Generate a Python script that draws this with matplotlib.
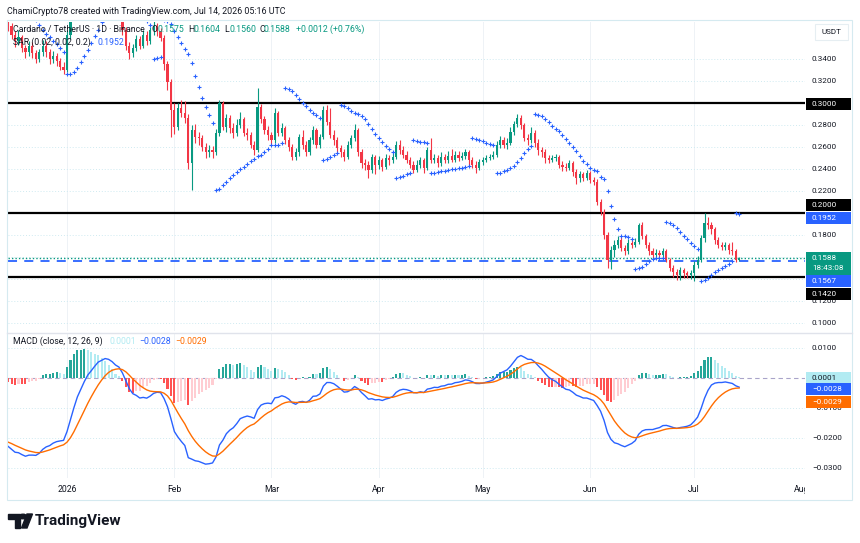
import numpy as np
import pandas as pd
import matplotlib
matplotlib.use("Agg")
import matplotlib.pyplot as plt
import matplotlib.dates as mdates
from matplotlib.patches import Rectangle, Polygon, Circle
from matplotlib.transforms import offset_copy, Bbox

plt.rcParams['font.family'] = ['Roboto', 'DejaVu Sans']

# ---- daily ADA/USDT candles, 15 Dec 2025 .. 14 Jul 2026 ----
first_day = "2025-12-15"
first_open = 0.376
closes = [
    0.370, 0.362, 0.356, 0.360, 0.350, 0.346, 0.352, 0.345, 0.340, 0.346, 0.352, 0.346, 0.340, 0.343, 0.338, 0.333, 0.330,
    0.362, 0.380, 0.390, 0.394, 0.390, 0.396, 0.398, 0.395, 0.400, 0.403, 0.398, 0.400, 0.392, 0.386, 0.380, 0.383,
    0.366, 0.352, 0.345, 0.350, 0.358, 0.352, 0.362, 0.356, 0.366, 0.370, 0.365, 0.359,
    0.335, 0.319, 0.294, 0.278, 0.295, 0.291, 0.286, 0.245, 0.275, 0.269, 0.268, 0.260, 0.255, 0.257, 0.255, 0.273,
    0.300, 0.278, 0.286, 0.277, 0.273, 0.280, 0.285, 0.273, 0.271, 0.262, 0.257, 0.296, 0.285, 0.275, 0.271, 0.266,
    0.291, 0.273, 0.277, 0.266, 0.260, 0.251, 0.255,
    0.269, 0.262, 0.255, 0.266, 0.275, 0.262, 0.269, 0.294, 0.283, 0.271, 0.266, 0.259, 0.255, 0.251, 0.262, 0.268,
    0.275, 0.255, 0.245, 0.244, 0.239, 0.251, 0.244, 0.248, 0.242, 0.250, 0.248, 0.251, 0.262, 0.257, 0.253, 0.248,
    0.244, 0.239, 0.244, 0.248, 0.241, 0.257, 0.248, 0.250, 0.245, 0.251, 0.248,
    0.252, 0.248, 0.253, 0.250, 0.252, 0.255, 0.248, 0.244, 0.241, 0.246, 0.248, 0.250, 0.251, 0.253, 0.262, 0.266,
    0.262, 0.264, 0.274, 0.281, 0.286, 0.280, 0.268, 0.266, 0.273, 0.264, 0.257, 0.255, 0.250, 0.248, 0.250, 0.251,
    0.244, 0.242, 0.241, 0.245, 0.237, 0.232, 0.235, 0.232, 0.236, 0.230, 0.228,
    0.210, 0.201, 0.180, 0.157, 0.166, 0.171, 0.175, 0.168, 0.165, 0.173, 0.171, 0.174, 0.189, 0.179, 0.171, 0.165,
    0.162, 0.164, 0.162, 0.165, 0.157, 0.150, 0.146, 0.144, 0.148, 0.145, 0.144, 0.145, 0.153, 0.157, 0.177, 0.191,
    0.189, 0.185, 0.175, 0.171, 0.169, 0.171, 0.166, 0.165, 0.1575, 0.1588,
]
highs = [
    0.380, 0.373, 0.365, 0.366, 0.362, 0.353, 0.356, 0.355, 0.348, 0.349, 0.357, 0.356, 0.349, 0.347, 0.345, 0.341, 0.337,
    0.366, 0.385, 0.394, 0.399, 0.397, 0.400, 0.403, 0.401, 0.404, 0.408, 0.405, 0.404, 0.402, 0.394, 0.388, 0.388,
    0.385, 0.369, 0.355, 0.354, 0.362, 0.361, 0.366, 0.365, 0.369, 0.375, 0.373, 0.368,
    0.362, 0.338, 0.322, 0.300, 0.300, 0.303, 0.302, 0.290, 0.280, 0.281, 0.274, 0.271, 0.264, 0.262, 0.261, 0.276,
    0.303, 0.302, 0.290, 0.289, 0.282, 0.285, 0.292, 0.287, 0.277, 0.274, 0.265, 0.314, 0.299, 0.288, 0.279, 0.274,
    0.295, 0.293, 0.282, 0.279, 0.269, 0.263, 0.259,
    0.272, 0.275, 0.265, 0.269, 0.279, 0.277, 0.272, 0.297, 0.298, 0.295, 0.275, 0.269, 0.262, 0.258, 0.265, 0.271,
    0.281, 0.277, 0.258, 0.249, 0.247, 0.254, 0.253, 0.252, 0.250, 0.254, 0.253, 0.255, 0.265, 0.266, 0.261, 0.256,
    0.251, 0.247, 0.248, 0.251, 0.250, 0.260, 0.268, 0.254, 0.253, 0.255, 0.254,
    0.256, 0.258, 0.256, 0.256, 0.255, 0.258, 0.257, 0.251, 0.247, 0.249, 0.251, 0.253, 0.254, 0.256, 0.265, 0.270,
    0.269, 0.268, 0.278, 0.284, 0.290, 0.289, 0.282, 0.272, 0.278, 0.275, 0.267, 0.260, 0.258, 0.253, 0.253, 0.254,
    0.253, 0.247, 0.245, 0.248, 0.247, 0.240, 0.238, 0.237, 0.239, 0.238, 0.233,
    0.231, 0.213, 0.204, 0.183, 0.170, 0.175, 0.179, 0.178, 0.171, 0.176, 0.175, 0.177, 0.191, 0.192, 0.181, 0.174,
    0.168, 0.167, 0.166, 0.168, 0.167, 0.159, 0.153, 0.149, 0.151, 0.150, 0.147, 0.148, 0.156, 0.161, 0.180, 0.200,
    0.196, 0.192, 0.187, 0.178, 0.174, 0.174, 0.173, 0.174, 0.167, 0.1604,
]
lows = [
    0.365, 0.358, 0.351, 0.353, 0.346, 0.341, 0.343, 0.341, 0.336, 0.337, 0.343, 0.342, 0.335, 0.336, 0.334, 0.330, 0.326,
    0.328, 0.358, 0.378, 0.385, 0.386, 0.388, 0.392, 0.390, 0.392, 0.398, 0.394, 0.395, 0.389, 0.383, 0.377, 0.377,
    0.362, 0.348, 0.340, 0.342, 0.347, 0.349, 0.350, 0.353, 0.354, 0.362, 0.361, 0.356,
    0.330, 0.312, 0.269, 0.272, 0.275, 0.287, 0.282, 0.240, 0.221, 0.264, 0.262, 0.256, 0.250, 0.251, 0.250, 0.253,
    0.270, 0.275, 0.274, 0.273, 0.268, 0.270, 0.277, 0.270, 0.266, 0.259, 0.253, 0.255, 0.282, 0.272, 0.266, 0.262,
    0.264, 0.270, 0.270, 0.263, 0.256, 0.248, 0.248,
    0.252, 0.258, 0.252, 0.253, 0.263, 0.259, 0.259, 0.267, 0.280, 0.268, 0.262, 0.255, 0.251, 0.247, 0.249, 0.259,
    0.265, 0.252, 0.241, 0.239, 0.232, 0.236, 0.235, 0.240, 0.238, 0.240, 0.244, 0.245, 0.249, 0.254, 0.250, 0.245,
    0.241, 0.236, 0.237, 0.241, 0.236, 0.239, 0.245, 0.245, 0.242, 0.243, 0.245,
    0.245, 0.246, 0.246, 0.247, 0.248, 0.249, 0.243, 0.241, 0.236, 0.239, 0.244, 0.246, 0.248, 0.249, 0.251, 0.259,
    0.259, 0.258, 0.262, 0.271, 0.278, 0.276, 0.265, 0.262, 0.264, 0.260, 0.253, 0.251, 0.245, 0.245, 0.246, 0.247,
    0.241, 0.238, 0.238, 0.239, 0.234, 0.226, 0.228, 0.229, 0.230, 0.227, 0.225,
    0.207, 0.198, 0.176, 0.150, 0.149, 0.160, 0.168, 0.165, 0.162, 0.163, 0.168, 0.169, 0.172, 0.176, 0.168, 0.162,
    0.159, 0.160, 0.159, 0.160, 0.155, 0.147, 0.142, 0.139, 0.139, 0.141, 0.141, 0.140, 0.138, 0.150, 0.155, 0.174,
    0.185, 0.181, 0.172, 0.168, 0.166, 0.166, 0.163, 0.162, 0.155, 0.156,
]

# indicator settings and the state they start from at the left edge
sar_start, sar_step, sar_max = 0.02, 0.02, 0.2
sar_seed = 0.400
ema_fast_seed, ema_slow_seed, signal_seed = 0.400, 0.422, -0.0210

# drawn levels and readouts shown on the chart
levels = [0.300, 0.200, 0.142]
last_price = 0.1588
blue_level = 0.1567
sar_value = 0.1952
hist_value, macd_value, signal_value = 0.0001, -0.0028, -0.0029
countdown = "18:43:08"

price_ticks = [0.10, 0.12, 0.18, 0.22, 0.24, 0.26, 0.28, 0.32, 0.34]
macd_ticks = [0.01, -0.01, -0.02, -0.03]
grid_price = [0.10, 0.12, 0.14, 0.16, 0.18, 0.20, 0.22, 0.24, 0.26, 0.28, 0.30, 0.32, 0.34]
month_starts = ["2026-01-01", "2026-02-01", "2026-03-01", "2026-04-01",
                "2026-05-01", "2026-06-01", "2026-07-01", "2026-08-01"]
month_labels = ["2026", "Feb", "Mar", "Apr", "May", "Jun", "Jul", "Aug"]

UP, DOWN = "#089981", "#F23645"
BLUE, ORANGE = "#2962FF", "#FF6D00"
INK = "#131722"

# ---- derived series ----
closes = np.array(closes)
highs = np.array(highs)
lows = np.array(lows)
opens = np.concatenate([[first_open], closes[:-1]])
dates = pd.date_range(first_day, periods=len(closes), freq="D")
x = mdates.date2num(dates)


def parabolic_sar(hi, lo):
    up = False
    sar, ep, af = sar_seed, lo[0], sar_start
    out = [sar]
    for i in range(1, len(hi)):
        sar = sar + af * (ep - sar)
        prev = slice(max(i - 2, 0), i)
        if up:
            sar = min(sar, lo[prev].min())
            if lo[i] < sar:
                up, sar, ep, af = False, ep, lo[i], sar_start
            elif hi[i] > ep:
                ep, af = hi[i], min(af + sar_step, sar_max)
        else:
            sar = max(sar, hi[prev].max())
            if hi[i] > sar:
                up, sar, ep, af = True, ep, hi[i], sar_start
            elif lo[i] < ep:
                ep, af = lo[i], min(af + sar_step, sar_max)
        out.append(sar)
    return np.array(out)


sar = parabolic_sar(highs, lows)

ef, es, sg = ema_fast_seed, ema_slow_seed, signal_seed
macd, signal = [], []
for c in closes:
    ef += 2 / 13 * (c - ef)
    es += 2 / 27 * (c - es)
    sg += 2 / 10 * ((ef - es) - sg)
    macd.append(ef - es)
    signal.append(sg)
macd = np.array(macd)
signal = np.array(signal)
hist = macd - signal
hist_colors = []
for i, h in enumerate(hist):
    rising = i > 0 and h > hist[i - 1]
    if h >= 0:
        hist_colors.append("#26A69A" if rising else "#B2EBF2")
    else:
        hist_colors.append("#FFCDD2" if rising else "#FF5252")

# ---- figure layout (pixel based) ----
W, H = 860, 543
fig = plt.figure(figsize=(W / 100, H / 100), dpi=100)
fig.patch.set_facecolor("white")


def rect(l, t, r, b):
    return [l / W, 1 - b / H, (r - l) / W, (b - t) / H]


def ftext(xp, yp, s, **kw):
    return fig.text(xp / W, 1 - yp / H, s, va="center", ha="left", **kw)


ax = fig.add_axes(rect(8, 22, 805, 331))
ax2 = fig.add_axes(rect(8, 334, 805, 478), sharex=ax)
jan1 = mdates.date2num(pd.Timestamp("2026-01-01"))
ax.set_xlim(jan1 - 17.03, jan1 + 213.0)
ax.set_ylim(0.0927, 0.3736)
ax2.set_ylim(-0.0333, 0.01467)
for a in (ax, ax2):
    for s in a.spines.values():
        s.set_visible(False)
    a.set_xticks([])
    a.set_yticks([])
    a.set_facecolor("none")

months = mdates.date2num(pd.to_datetime(month_starts))
for m in months[:-1]:
    ax.axvline(m, color="#eef2f6", lw=0.7, zorder=0)
    ax2.axvline(m, color="#eef2f6", lw=0.7, zorder=0)
for t in grid_price:
    ax.axhline(t, color="#cfeaf1", lw=0.7, ls=(0, (1, 2)), zorder=0)
for t in macd_ticks:
    ax2.axhline(t, color="#cfeaf1", lw=0.7, ls=(0, (1, 2)), zorder=0)
ax2.axhline(0, color="#a9a4c9", lw=0.8, ls=(0, (4, 3)), zorder=1)

# price pane
for lv in levels:
    ax.axhline(lv, color="black", lw=1.6, zorder=2)
ax.axhline(last_price, color=UP, lw=1.0, ls=(0, (1, 1.5)), zorder=2)
ax.axhline(blue_level, color=BLUE, lw=1.3, ls=(0, (5, 4)), zorder=2)

col = np.where(closes >= opens, UP, DOWN)
ax.vlines(x, lows, highs, colors=col, lw=0.8, zorder=3)
body = np.maximum(np.abs(closes - opens), 0.0007)
ax.bar(x, body, bottom=np.minimum(opens, closes), width=0.62, color=col, zorder=4)
ax.plot(x, sar, ls="none", marker="+", ms=2.8, mew=0.8, color=BLUE, zorder=5)

# MACD pane
ax2.bar(x, hist, width=0.6, color=hist_colors, zorder=2)
ax2.plot(x, macd, color=BLUE, lw=1.0, zorder=3)
ax2.plot(x, signal, color=ORANGE, lw=1.0, zorder=3)

# right price scale
LBL = 1 + 7 / 797
for t in price_ticks:
    ax.text(LBL, t, f"{t:.4f}", transform=ax.get_yaxis_transform(), va="center",
            ha="left", fontsize=5.9, color=INK, clip_on=False, zorder=6)
for t in macd_ticks:
    ax2.text(LBL, t, f"{t:.4f}".replace("-", "\u2212"), transform=ax2.get_yaxis_transform(),
             va="center", ha="left", fontsize=5.9, color=INK, clip_on=False, zorder=6)


def value_box(a, value, lines, bg, fg, dy=0, top=6, bottom=6):
    ppu = a.bbox.height / (a.get_ylim()[1] - a.get_ylim()[0])
    tr = offset_copy(a.get_yaxis_transform(), fig=fig, x=0, y=dy, units="dots")
    a.add_patch(Rectangle((1 + 1 / 797, value - bottom / ppu), 45 / 797, (top + bottom) / ppu,
                          transform=tr, facecolor=bg, edgecolor="none", clip_on=False, zorder=7))
    for k, s in enumerate(lines):
        a.text(LBL, value - k * 10 / ppu, s, transform=tr, va="center", ha="left",
               fontsize=5.9, color=fg, clip_on=False, zorder=8)


value_box(ax, levels[0], [f"{levels[0]:.4f}"], "black", "white", dy=-1)
value_box(ax, levels[1], [f"{levels[1]:.4f}"], "black", "white", dy=8)
value_box(ax, sar_value, [f"{sar_value:.4f}"], BLUE, "white")
value_box(ax, last_price, [f"{last_price:.4f}", countdown], UP, "white", top=6, bottom=16.5)
value_box(ax, blue_level, [f"{blue_level:.4f}"], BLUE, "white", dy=-20)
value_box(ax, levels[2], [f"{levels[2]:.4f}"], "black", "white", dy=-17)
value_box(ax2, hist_value, [f"{hist_value:.4f}"], "#B2EBF2", INK)
value_box(ax2, macd_value, [f"{macd_value:.4f}".replace("-", "\u2212")], BLUE, "white", dy=-3)
value_box(ax2, signal_value, [f"{signal_value:.4f}".replace("-", "\u2212")], ORANGE, "white", dy=-15)

# time scale
for m, lab in zip(months, month_labels):
    t = ax2.text(m, -12 / 144, lab, transform=ax2.get_xaxis_transform(), ha="center",
                 va="center", fontsize=6.2, color=INK, clip_on=False)
    if lab == "Aug":
        t.set_clip_on(True)
        t.set_clip_box(Bbox.from_extents(0, 0, 805, H))

# frame and separators
fig.add_artist(Rectangle((7 / W, 1 - 500 / H), 845 / W, 480 / H, transform=fig.transFigure,
                         fill=False, edgecolor="#d5eaf0", lw=0.8))
fig.add_artist(plt.Line2D([7 / W, 852 / W], [1 - 332.5 / H] * 2, transform=fig.transFigure,
                          color="#e0e3eb", lw=1.0))
fig.add_artist(Rectangle((815 / W, 1 - 40 / H), 33 / W, 16 / H, transform=fig.transFigure,
                         fill=False, edgecolor="#e6eef2", lw=0.8))
ftext(821, 32, "USDT", fontsize=5.8, color=INK)

# headers
ftext(7, 11, "ChamiCrypto78 created with TradingView.com, Jul 14, 2026 05:16 UTC", fontsize=6.4, color=INK)
ftext(13, 29.5, "Cardano / TetherUS \u00b7 1D \u00b7 Binance", fontsize=6.3, color=INK)
for xp, s, c in [(151, "O", INK), (157, "0.1575", UP), (188, "H", INK), (193, "0.1604", UP),
                 (224, "L", INK), (229, "0.1560", UP), (259, "C", INK), (264, "0.1588", UP),
                 (296, "+0.0012 (+0.76%)", UP)]:
    ftext(xp, 29.5, s, fontsize=6.3, color=c)
ftext(13, 42.5, "SAR (0.02, 0.02, 0.2)", fontsize=6.3, color=INK)
ftext(98, 42.5, f"{sar_value:.4f}", fontsize=6.3, color=BLUE)
ftext(13, 341, "MACD (close, 12, 26, 9)", fontsize=6.3, color=INK)
ftext(109, 341, f"{hist_value:.4f}", fontsize=6.3, color="#B2EBF2")
ftext(139, 341, f"{macd_value:.4f}".replace("-", "\u2212"), fontsize=6.3, color=BLUE)
ftext(175, 341, f"{signal_value:.4f}".replace("-", "\u2212"), fontsize=6.3, color=ORANGE)


# TradingView logo
def px(xp, yp):
    return (xp / W, 1 - yp / H)


fig.add_artist(Polygon([px(8, 514), px(20, 514), px(20, 528), px(14.5, 528), px(14.5, 519), px(8, 519)],
                       closed=True, transform=fig.transFigure, color=INK))
fig.add_artist(Circle(px(23, 516.5), 2.3 / H, transform=fig.transFigure, color=INK))
fig.add_artist(Polygon([px(27, 514), px(32.5, 514), px(27, 528), px(21.5, 528)],
                       closed=True, transform=fig.transFigure, color=INK))
ftext(35, 521, "TradingView", fontsize=11, fontweight="bold", color=INK)

fig.savefig("out.png", dpi=100)
